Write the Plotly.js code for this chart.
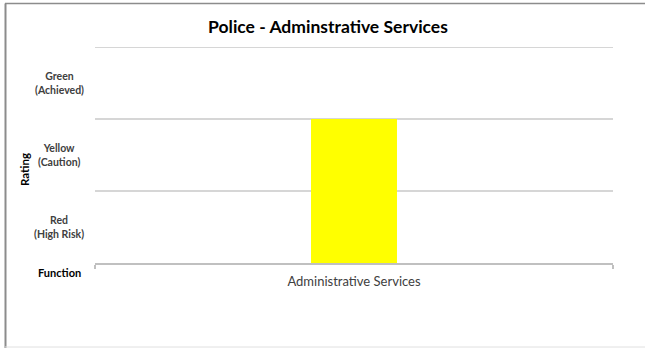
<!DOCTYPE html>
<html>
<head>
<meta charset="utf-8">
<script src="https://cdn.plot.ly/plotly-3.0.1.min.js"></script>
<style>html,body{margin:0;padding:0;background:#fff;}#chart{width:645px;height:348px;}</style>
</head>
<body>
<div id="chart"></div>
<script>
const categories = ["Administrative Services"];
const ratingValues = [2];
const barColors = ["#ffff00"];
const ratingLevels = [0.5, 1.5, 2.5];
const ratingLabels = ["Red<br>(High Risk)", "Yellow<br>(Caution)", "Green<br>(Achieved)"];
const gridLevels = [1, 2, 3];

const FONT = "Lato, 'Open Sans', sans-serif";
const L = 95, R = 32, T = 47, B = 85, W = 645, H = 348;
const pw = W - L - R, ph = H - T - B;
const px = v => (v - L) / pw;
const py = v => (H - B - v) / ph;

const trace = {
  type: "bar",
  x: categories,
  y: ratingValues,
  width: 0.166,
  marker: {color: barColors, line: {width: 0}},
  hoverinfo: "skip"
};

const annotations = ratingLevels.map((v, i) => ({
  xref: "paper", yref: "y", x: 0, y: v, xshift: -36,
  xanchor: "center", yanchor: "middle", showarrow: false, align: "center",
  text: "<b>" + ratingLabels[i] + "</b>",
  font: {family: FONT, size: 10.5, color: "#404040"}
}));
annotations.push({
  xref: "paper", yref: "paper", x: px(59), y: py(272), xanchor: "center", yanchor: "middle",
  showarrow: false, text: "<b>Function</b>", font: {family: FONT, size: 11, color: "#000"}
});
annotations.push({
  xref: "paper", yref: "paper", x: px(24), y: py(170), xanchor: "center", yanchor: "middle",
  showarrow: false, textangle: -90, text: "<b>Rating</b>", font: {family: FONT, size: 11.5, color: "#000"}
});

const gridShapes = gridLevels.map(v => ({
  type: "line", xref: "paper", yref: "y", x0: 0, x1: 1, y0: v, y1: v, layer: "below",
  line: {color: "#c8c8c8", width: 1.5}
}));

const layout = {
  width: W, height: H,
  margin: {l: L, r: R, t: T, b: B, pad: 0},
  paper_bgcolor: "#fff", plot_bgcolor: "#fff",
  showlegend: false,
  title: {text: "<b>Police - Adminstrative Services</b>", x: px(328), xref: "paper", xanchor: "center",
          y: 1 - 27 / H, yanchor: "middle", font: {family: FONT, size: 17.5, color: "#000"}},
  xaxis: {
    type: "category", range: [-0.5, 0.5], showgrid: false,
    showline: true, linecolor: "#c0c0c0", linewidth: 1.5,
    ticks: "outside", tickson: "boundaries", ticklen: 4, tickcolor: "#c0c0c0", tickwidth: 1.5,
    ticklabelstandoff: 6,
    tickfont: {family: FONT, size: 13, color: "#404040"}, fixedrange: true
  },
  yaxis: {
    range: [0, 3], showticklabels: false, showgrid: false, zeroline: false, showline: false,
    tickmode: "array", tickvals: [],
    fixedrange: true
  },
  annotations: annotations,
  shapes: gridShapes.concat([
    {type: "line", xref: "paper", yref: "paper", x0: px(5.5), x1: px(5.5), y0: py(3.5), y1: py(348), line: {color: "#8c8c8c", width: 2}},
    {type: "line", xref: "paper", yref: "paper", x0: px(5), x1: px(645), y0: py(3.5), y1: py(3.5), line: {color: "#8c8c8c", width: 1.5}},
    {type: "line", xref: "paper", yref: "paper", x0: px(5), x1: px(645), y0: py(347), y1: py(347), line: {color: "#e0e0e0", width: 1}}
  ])
};

Plotly.newPlot("chart", [trace], layout, {displayModeBar: false, staticPlot: true});
</script>
</body>
</html>
